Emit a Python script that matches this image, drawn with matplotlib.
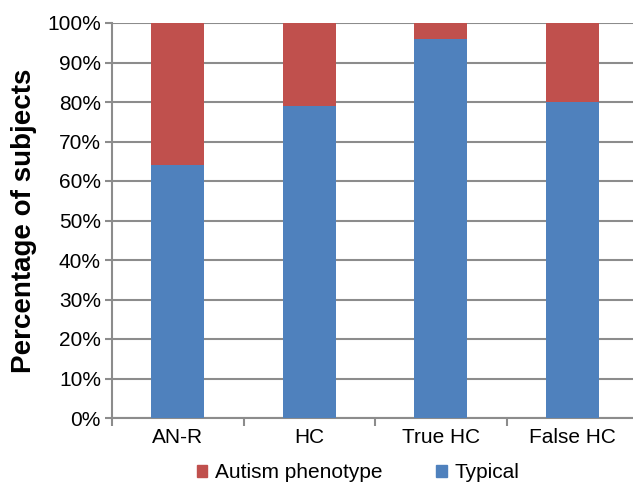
import matplotlib
matplotlib.use("Agg")
import matplotlib.pyplot as plt
from matplotlib.ticker import FuncFormatter, MultipleLocator
from matplotlib.patches import Patch

categories = ["AN-R", "HC", "True HC", "False HC"]
typical = [64, 79, 96, 80]
autism = [36, 21, 4, 20]

plt.rcParams['font.family'] = ['Liberation Sans', 'DejaVu Sans']

fig = plt.figure(figsize=(6.33, 4.87), dpi=100)
ax = fig.add_axes([112/633, (487-418)/487, (638-112)/633, (418-23)/487])

x = list(range(len(categories)))
blue = "#4F81BD"
red = "#C0504D"
ax.bar(x, typical, width=0.40, color=blue, zorder=3, label="Typical")
ax.bar(x, autism, bottom=typical, width=0.40, color=red, zorder=3, label="Autism phenotype")

ax.set_xlim(-0.5, 3.5)
ax.set_ylim(0, 100)
ax.yaxis.set_major_locator(MultipleLocator(10))
ax.yaxis.set_major_formatter(FuncFormatter(lambda v, p: f"{int(v)}%"))
ax.grid(axis='y', color='#8c8c8c', linewidth=1.5, zorder=0)
ax.set_axisbelow(True)

ax.set_xticks(x)
ax.set_xticklabels(categories)
ax.set_xticks([-0.5, 0.5, 1.5, 2.5, 3.5], minor=True)
ax.tick_params(axis='x', which='major', length=0, labelsize=15, pad=7)
ax.tick_params(axis='x', which='minor', length=6, width=1.5, color='#8c8c8c')
ax.tick_params(axis='y', length=5, width=1.5, color='#8c8c8c', labelsize=15, pad=3)

for s in ['top', 'right']:
    ax.spines[s].set_visible(False)
for s in ['left', 'bottom']:
    ax.spines[s].set_color('#8c8c8c')
    ax.spines[s].set_linewidth(1.5)

ax.set_ylabel("Percentage of subjects", fontsize=20, fontweight='bold')
ax.yaxis.set_label_coords(-(112-37)/526, 0.5)

handles = [Patch(color=red, label="Autism phenotype"), Patch(color=blue, label="Typical")]
fig.legend(handles=handles, loc='center', bbox_to_anchor=(358/633, 1 - 473/487), ncol=2,
           frameon=False, fontsize=15, handlelength=0.5, handleheight=0.5,
           handletextpad=0.35, columnspacing=2.6)

fig.savefig("out.png", dpi=100)
